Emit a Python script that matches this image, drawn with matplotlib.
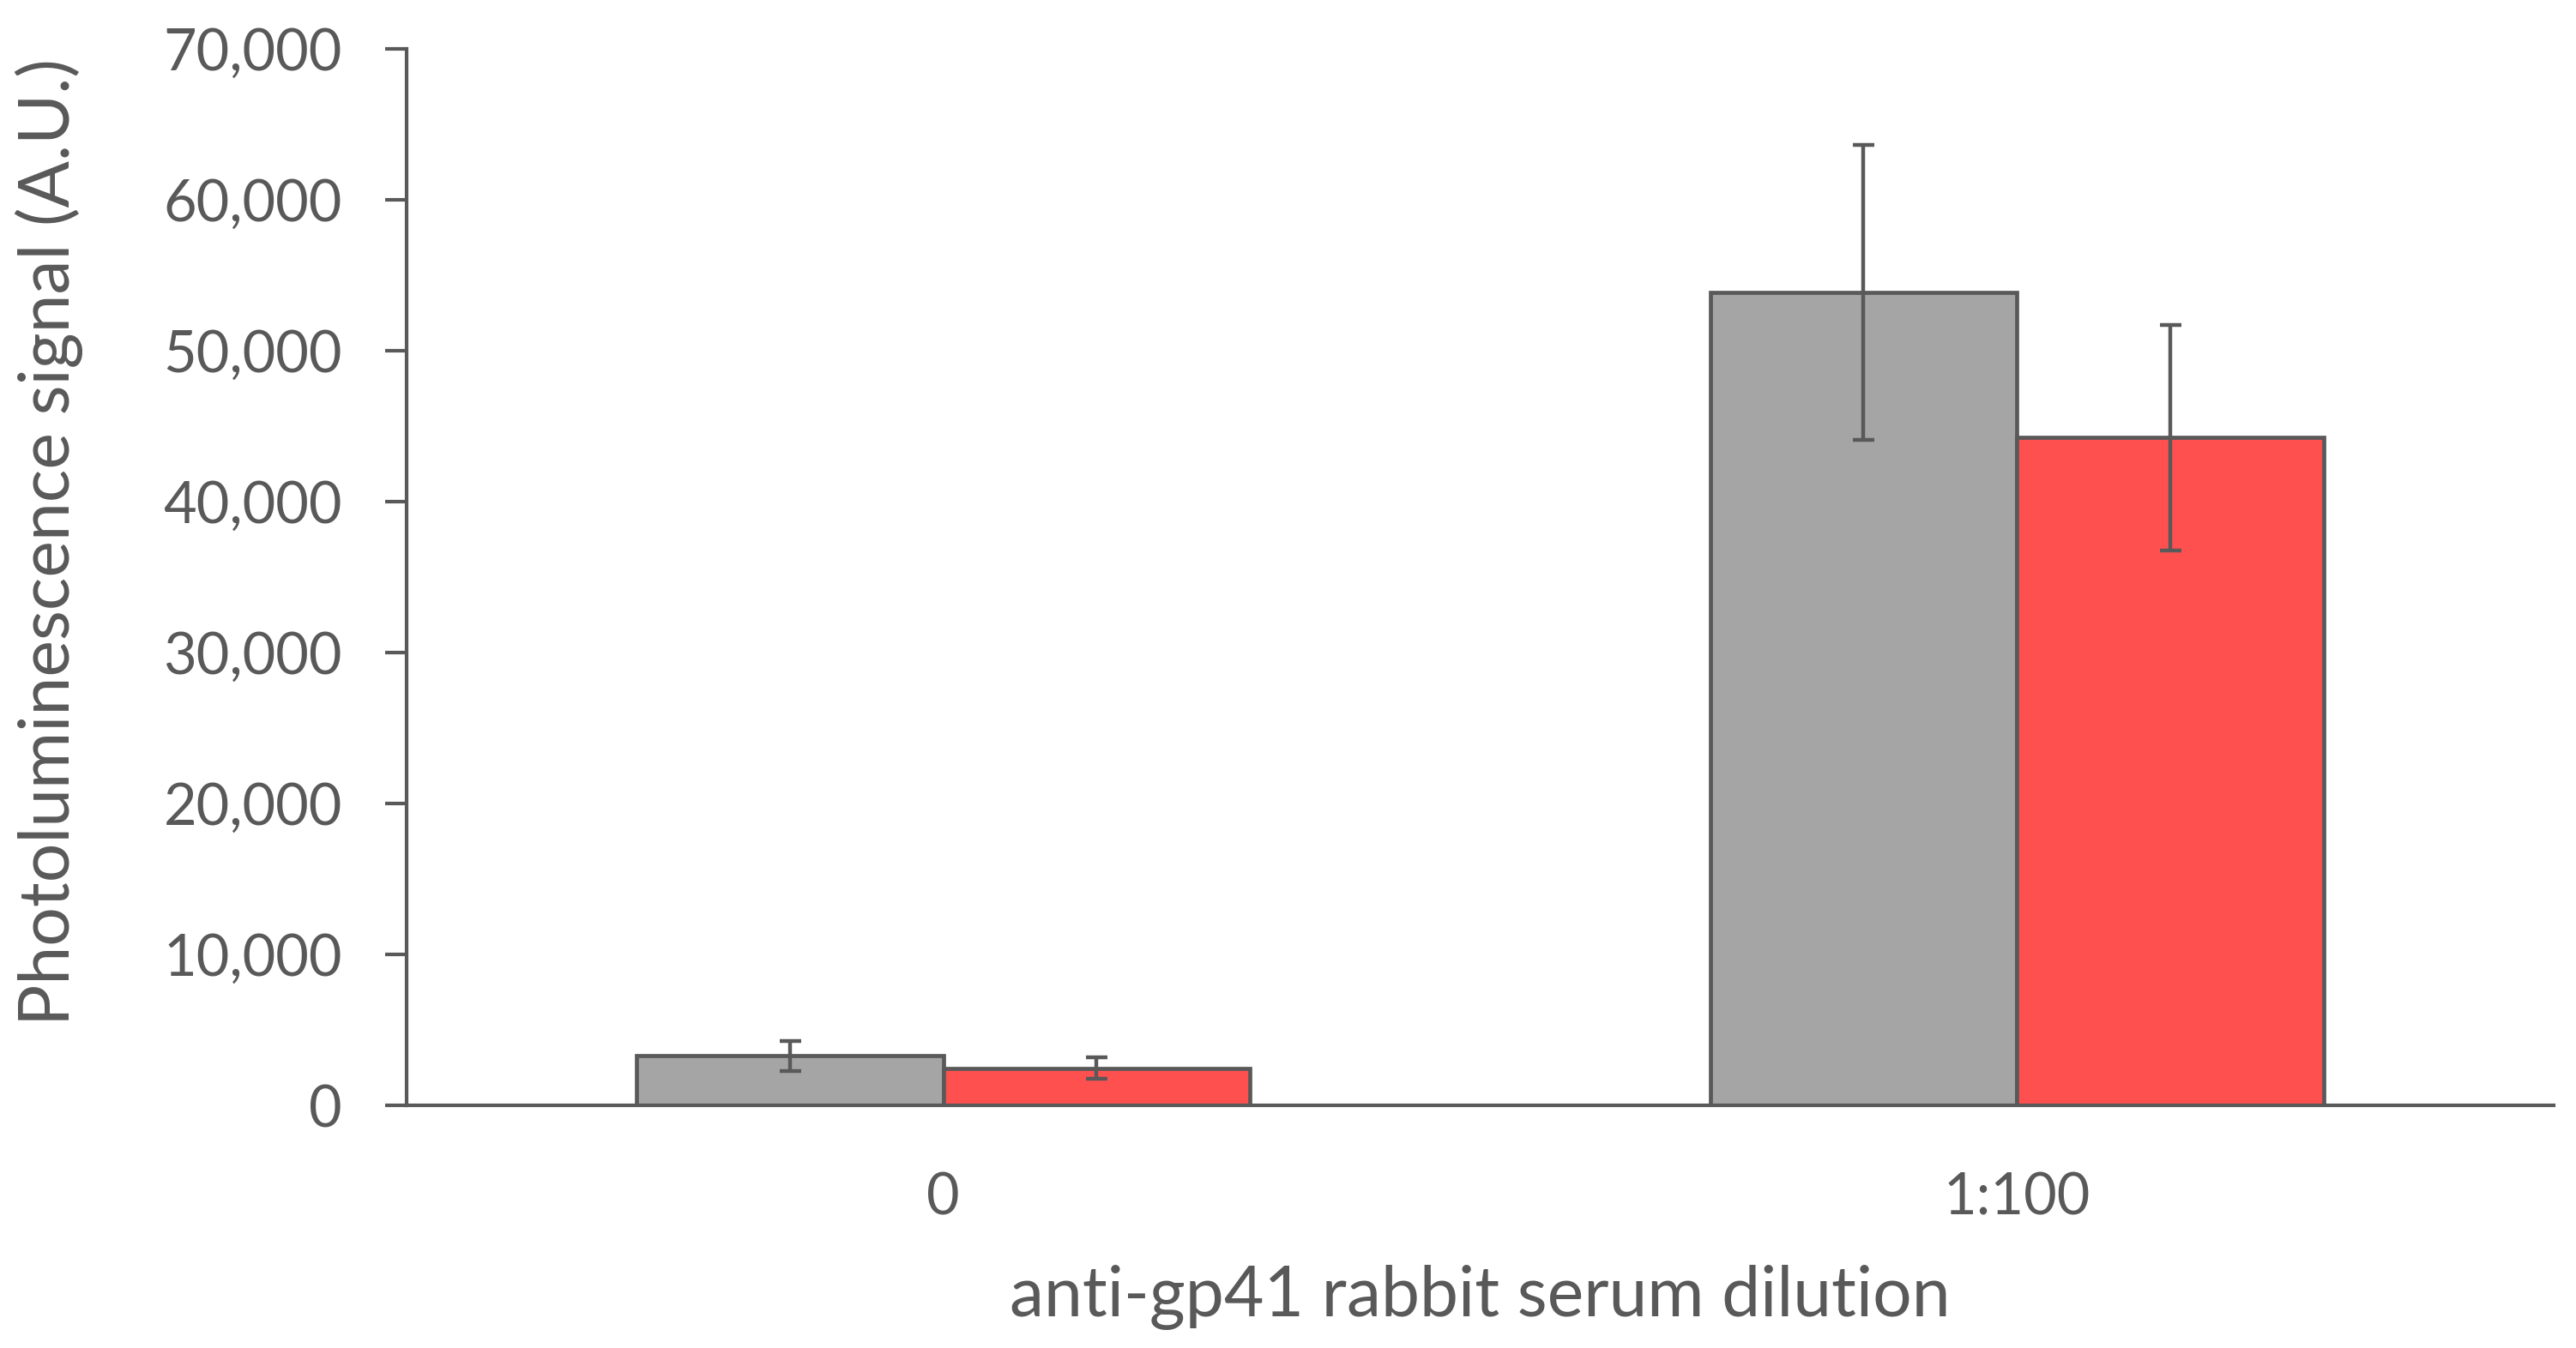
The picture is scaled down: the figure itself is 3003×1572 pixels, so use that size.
import numpy as np
import matplotlib.pyplot as plt
from matplotlib.ticker import FuncFormatter

# values
categories = ["0", "1:100"]
gray_vals = [3280, 53870]
gray_err = [980, 9790]
red_vals = [2470, 44240]
red_err = [710, 7460]

text_color = "#595959"
plt.rcParams['font.family'] = ['Lato', 'DejaVu Sans']

fig = plt.figure(figsize=(30.03, 15.72), dpi=100)
ax = fig.add_axes([0.1578, 0.18, 0.8335, 0.7837])

x = np.arange(len(categories))
width = 1 / 3.5  # excel gap width 150%

ax.bar(x - width / 2, gray_vals, width, color="#A5A5A5", edgecolor=text_color,
       linewidth=3.4, yerr=gray_err,
       error_kw=dict(ecolor=text_color, elinewidth=3.2, capsize=9, capthick=3.2))
ax.bar(x + width / 2, red_vals, width, color="#FF5050", edgecolor=text_color,
       linewidth=3.4, yerr=red_err,
       error_kw=dict(ecolor=text_color, elinewidth=3.2, capsize=9, capthick=3.2))

ax.set_xlim(-0.5, 1.5)
ax.set_ylim(0, 70000)
ax.set_yticks(np.arange(0, 70001, 10000))
ax.yaxis.set_major_formatter(FuncFormatter(lambda v, p: f"{int(v):,}"))
ax.set_xticks(x)
ax.set_xticklabels(categories)

for s in ["top", "right"]:
    ax.spines[s].set_visible(False)
for s in ["left", "bottom"]:
    ax.spines[s].set_color(text_color)
    ax.spines[s].set_linewidth(3)

ax.tick_params(axis="y", length=18, width=3, color=text_color, labelcolor=text_color,
               labelsize=48, pad=36)
ax.tick_params(axis="x", length=0, labelcolor=text_color, labelsize=48, pad=56)

ax.set_ylabel("Photoluminescence signal (A.U.)", fontsize=58, color=text_color, va="center")
ax.set_xlabel("anti-gp41 rabbit serum dilution", fontsize=58, color=text_color, va="center")
ax.yaxis.set_label_coords(-0.1666, 0.533)
ax.xaxis.set_label_coords(0.5, -0.1818)

fig.savefig("out.png", dpi=100, facecolor="white")
